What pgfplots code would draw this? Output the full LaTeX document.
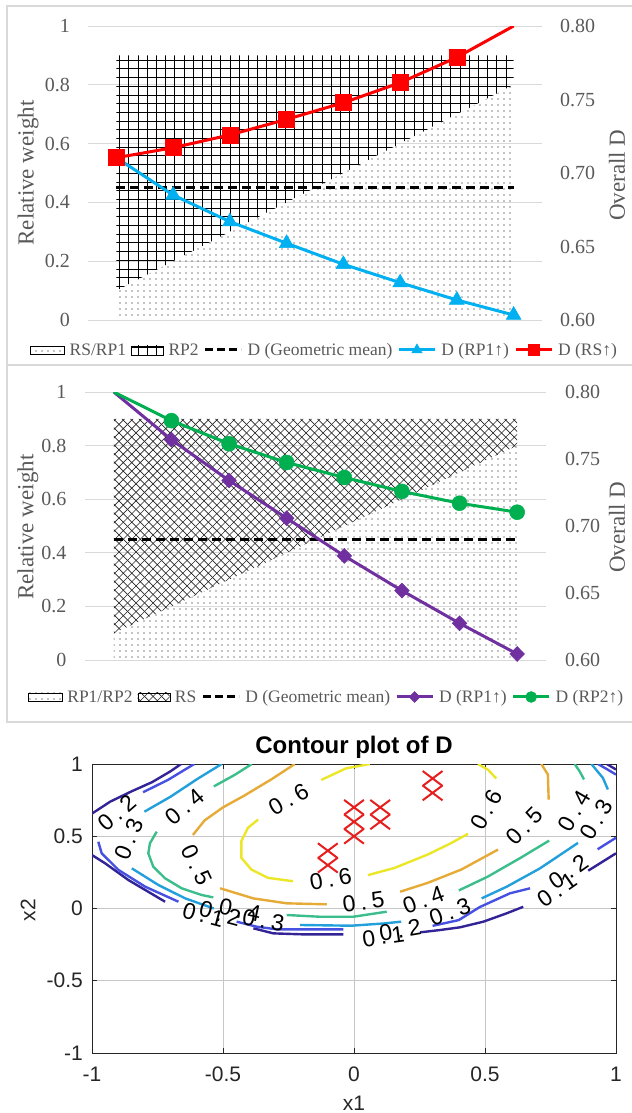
\documentclass[border=0pt]{standalone}
\usepackage{fontspec}
\setmainfont{Liberation Serif}
\newfontfamily\sansf{Liberation Sans}
\usepackage{pgfplots}
\pgfplotsset{compat=1.18}
\usetikzlibrary{patterns}

\pgfdeclarepatternformonly{bigdots}{\pgfqpoint{-1bp}{-1bp}}{\pgfqpoint{13bp}{13bp}}{\pgfqpoint{12bp}{12bp}}{%
  \pgfpathcircle{\pgfqpoint{0bp}{0bp}}{0.55bp}%
  \pgfpathcircle{\pgfqpoint{6bp}{6bp}}{0.55bp}%
  \pgfpathcircle{\pgfqpoint{6bp}{0bp}}{0.55bp}%
  \pgfpathcircle{\pgfqpoint{0bp}{6bp}}{0.55bp}%
  \pgfusepath{fill}}
\pgfdeclarepatternformonly{biggrid}{\pgfqpoint{-1bp}{-1bp}}{\pgfqpoint{10bp}{10bp}}{\pgfqpoint{9.2bp}{8.7bp}}{%
  \pgfsetlinewidth{1bp}%
  \pgfpathmoveto{\pgfqpoint{0bp}{0bp}}\pgfpathlineto{\pgfqpoint{9.3bp}{0bp}}%
  \pgfpathmoveto{\pgfqpoint{0bp}{0bp}}\pgfpathlineto{\pgfqpoint{0bp}{8.8bp}}%
  \pgfusepath{stroke}}
\pgfdeclarepatternformonly{bigcross}{\pgfqpoint{-1bp}{-1bp}}{\pgfqpoint{9.5bp}{9.5bp}}{\pgfqpoint{8.5bp}{8.5bp}}{%
  \pgfsetlinewidth{0.7bp}%
  \pgfpathmoveto{\pgfqpoint{0bp}{0bp}}\pgfpathlineto{\pgfqpoint{8.5bp}{8.5bp}}%
  \pgfpathmoveto{\pgfqpoint{0bp}{8.5bp}}\pgfpathlineto{\pgfqpoint{8.5bp}{0bp}}%
  \pgfusepath{stroke}}

\definecolor{txt}{HTML}{595959}
\definecolor{gridc}{HTML}{D9D9D9}
\definecolor{xred}{HTML}{FF0000}
\definecolor{xblue}{HTML}{00B0F0}
\definecolor{xpurple}{HTML}{7030A0}
\definecolor{xgreen}{HTML}{00B050}
\definecolor{c1}{RGB}{50,35,150}
\definecolor{c2}{RGB}{70,80,225}
\definecolor{c3}{RGB}{35,160,220}
\definecolor{c4}{RGB}{60,190,140}
\definecolor{c5}{RGB}{230,170,55}
\definecolor{c6}{RGB}{235,230,40}
\definecolor{mred}{RGB}{230,30,30}

\newcommand\tickf{\fontsize{20bp}{24bp}\selectfont}
\newcommand\labf{\fontsize{23bp}{27bp}\selectfont}
\newcommand\legf{\fontsize{17.5bp}{21bp}\selectfont}
\newcommand\ctf{\sansf\fontsize{21bp}{25bp}\selectfont}
\newcommand\clf{\sansf\fontsize{23bp}{27bp}\selectfont}
\newcommand\lb[2]{#1\hspace{5bp}.\hspace{5bp}#2}

\pgfplotsset{
  leftax/.style={scale only axis, xmin=-0.5, xmax=7.5, ymin=0, ymax=1,
    xtick=\empty, ytick={0,0.2,0.4,0.6,0.8,1}, yticklabels={0,0.2,0.4,0.6,0.8,1},
    ymajorgrids, grid style={gridc, line width=1bp}, axis line style={draw=none},
    major tick length=0pt, tick style={draw=none},
    yticklabel style={font=\tickf, text=txt, anchor=east, inner sep=0pt}},
  rightax/.style={scale only axis, xmin=-0.5, xmax=7.5, ymin=0.6, ymax=0.8,
    axis y line*=right, axis x line=none, xtick=\empty,
    ytick={0.6,0.65,0.7,0.75,0.8}, yticklabels={0.60,0.65,0.70,0.75,0.80},
    axis line style={draw=none}, major tick length=0pt, tick style={draw=none},
    yticklabel style={font=\tickf, text=txt, anchor=west, inner sep=0pt},
    legend cell align=left},
  legst/.style={anchor=center, draw=none, fill=none, font=\legf, text=txt,
    legend columns=5, /tikz/every even column/.append style={column sep=4bp},
    /tikz/every odd column/.append style={column sep=4bp}, inner sep=0pt, nodes={inner sep=1bp}},
  cl/.style={line width=2.4bp, no marks},
}

\begin{document}
\begin{tikzpicture}
\useasboundingbox (0bp,0bp) rectangle (632bp,-1113bp);
\draw[gridc, line width=1.2bp] (7bp,-6bp) rectangle (640bp,-365bp);
\draw[gridc, line width=1.2bp] (7bp,-365bp) rectangle (640bp,-722bp);

% ---------------- Panel 1 ----------------
\begin{axis}[leftax, at={(88bp,-320bp)}, anchor=south west, width=454bp, height=294bp,
  yticklabel style={xshift=-18bp}, ylabel={Relative weight},
  every axis y label/.style={at={(axis description cs:-0.132,0.5)}, anchor=center, rotate=90, font=\labf, text=txt}]
\addplot[draw=none, pattern=bigdots, pattern color=black] coordinates {(0,0) (7,0) (7,0.8) (0,0.1)} -- cycle;
\addplot[draw=none, pattern=biggrid, pattern color=black] coordinates {(0,0.1) (7,0.8) (7,0.9) (0,0.9)} -- cycle;
\addplot[black, line width=3bp, dash pattern=on 9bp off 5bp] coordinates {(0,0.45) (7,0.45)};
\end{axis}
\begin{axis}[rightax, at={(88bp,-320bp)}, anchor=south west, width=454bp, height=294bp,
  yticklabel style={xshift=18bp}, ylabel={Overall D},
  every axis y label/.style={at={(axis description cs:1.165,0.493)}, anchor=center, rotate=90, font=\labf, text=txt},
  legend style={legst, at={(axis description cs:0.52,-0.102)}}]
\addlegendimage{legend image code/.code={\fill[pattern=bigdots, pattern color=black] (0bp,-4bp) rectangle (34bp,4bp);}}
\addlegendentry{RS/RP1}
\addlegendimage{legend image code/.code={\fill[pattern=biggrid, pattern color=black] (0bp,-5bp) rectangle (32bp,4bp);}}
\addlegendentry{RP2}
\addlegendimage{legend image code/.code={\draw[black, line width=3bp, dash pattern=on 8bp off 4bp] (0bp,0bp) -- (36bp,0bp);}}
\addlegendentry{D (Geometric mean)}
\addplot[xblue, line width=3bp, mark=triangle*, mark size=8.5bp, mark options={line width=0.5bp}, mark indices={2,3,4,5,6,7,8},
  legend image code/.code={\draw[xblue, line width=3bp] plot[mark=triangle*, mark size=6bp, mark options={line width=0.5bp}, mark indices={2}] coordinates {(0bp,0bp) (18bp,0bp) (36bp,0bp)};}]
  coordinates {(0,0.7104) (1,0.685) (2,0.6669) (3,0.6522) (4,0.6379) (5,0.6254) (6,0.6136) (7,0.6034)};
\addlegendentry{D (RP1↑)}
\addplot[xred, line width=3bp, mark=square*, mark size=8bp, mark options={line width=0.5bp}, mark indices={1,2,3,4,5,6,7},
  legend image code/.code={\draw[xred, line width=3bp] plot[mark=square*, mark size=5.5bp, mark options={line width=0.5bp}, mark indices={2}] coordinates {(0bp,0bp) (18bp,0bp) (36bp,0bp)};}]
  coordinates {(0,0.7104) (1,0.7172) (2,0.7259) (3,0.7365) (4,0.7478) (5,0.7614) (6,0.7787) (7,0.8)};
\addlegendentry{D (RS↑)}
\end{axis}

% ---------------- Panel 2 ----------------
\begin{axis}[leftax, at={(85bp,-660bp)}, anchor=south west, width=461bp, height=268bp,
  yticklabel style={xshift=-18.5bp}, ylabel={Relative weight},
  every axis y label/.style={at={(axis description cs:-0.124,0.496)}, anchor=center, rotate=90, font=\labf, text=txt}]
\addplot[draw=none, pattern=bigdots, pattern color=black] coordinates {(0,0) (7,0) (7,0.8) (0,0.1)} -- cycle;
\addplot[draw=none, pattern=bigcross, pattern color=black!85] coordinates {(0,0.1) (7,0.8) (7,0.9) (0,0.9)} -- cycle;
\addplot[black, line width=3bp, dash pattern=on 9bp off 5bp] coordinates {(0,0.45) (7,0.45)};
\end{axis}
\begin{axis}[rightax, at={(85bp,-660bp)}, anchor=south west, width=461bp, height=268bp,
  yticklabel style={xshift=19bp}, ylabel={Overall D},
  every axis y label/.style={at={(axis description cs:1.154,0.496)}, anchor=center, rotate=90, font=\labf, text=txt},
  legend style={legst, at={(axis description cs:0.523,-0.138)}}]
\addlegendimage{legend image code/.code={\fill[pattern=bigdots, pattern color=black] (0bp,-4bp) rectangle (34bp,4bp);}}
\addlegendentry{RP1/RP2}
\addlegendimage{legend image code/.code={\fill[pattern=bigcross, pattern color=black!85] (0bp,-4bp) rectangle (32bp,4bp);}}
\addlegendentry{RS}
\addlegendimage{legend image code/.code={\draw[black, line width=3bp, dash pattern=on 8bp off 4bp] (0bp,0bp) -- (36bp,0bp);}}
\addlegendentry{D (Geometric mean)}
\addplot[xpurple, line width=3bp, mark=diamond*, mark size=7.5bp, mark options={line width=0.5bp, xscale=1.3}, mark indices={2,3,4,5,6,7,8},
  legend image code/.code={\draw[xpurple, line width=3bp] plot[mark=diamond*, mark size=5.5bp, mark options={line width=0.5bp, xscale=1.3}, mark indices={2}] coordinates {(0bp,0bp) (18bp,0bp) (36bp,0bp)};}]
  coordinates {(0,0.8) (1,0.7644) (2,0.734) (3,0.7058) (4,0.6777) (5,0.6518) (6,0.6274) (7,0.6045)};
\addlegendentry{D (RP1↑)}
\addplot[xgreen, line width=3bp, mark=*, mark size=7.5bp, mark options={line width=0.5bp}, mark indices={2,3,4,5,6,7,8},
  legend image code/.code={\draw[xgreen, line width=3bp] plot[mark=*, mark size=5.5bp, mark options={line width=0.5bp}, mark indices={2}] coordinates {(0bp,0bp) (18bp,0bp) (36bp,0bp)};}]
  coordinates {(0,0.8) (1,0.7786) (2,0.7614) (3,0.7474) (4,0.7362) (5,0.7258) (6,0.717) (7,0.7103)};
\addlegendentry{D (RP2↑)}
\end{axis}

% ---------------- Panel 3 ----------------
\begin{axis}[at={(92bp,-1053bp)}, anchor=south west, scale only axis, width=524bp, height=289bp,
  xmin=-1, xmax=1, ymin=-1, ymax=1,
  xtick={-1,-0.5,0,0.5,1}, xticklabels={-1,-0.5,0,0.5,1},
  ytick={-1,-0.5,0,0.5,1}, yticklabels={-1,-0.5,0,0.5,1},
  grid=major, grid style={black!22, line width=0.8bp},
  axis line style={black!85, line width=0.9bp}, tick align=inside, major tick length=5bp,
  tick style={black!85, line width=0.8bp},
  xticklabel style={font=\ctf, text=black!85, anchor=north, inner sep=0pt, yshift=-14bp},
  yticklabel style={font=\ctf, text=black!85, anchor=east, inner sep=0pt, xshift=-9bp},
  title={Contour plot of D}, xlabel={x1}, ylabel={x2},
  every axis title/.style={at={(axis description cs:0.5,1.059)}, anchor=center, font=\sansf\bfseries\fontsize{24bp}{28bp}\selectfont},
  every axis x label/.style={at={(axis description cs:0.5,-0.173)}, anchor=center, font=\ctf, text=black!85},
  every axis y label/.style={at={(axis description cs:-0.122,0.495)}, anchor=center, rotate=90, font=\ctf, text=black!85}]
% level 0.1
\addplot[c1, cl] coordinates {(-1,0.657) (-0.93,0.74) (-0.85,0.81) (-0.77,0.875) (-0.70,0.95) (-0.66,1.0)};
\addplot[c1, cl] coordinates {(-1,0.37) (-0.95,0.313) (-0.861,0.197) (-0.721,0.047)};
\addplot[c1, cl] coordinates {(-0.384,-0.137) (-0.308,-0.172) (-0.193,-0.179) (-0.041,-0.179)};
\addplot[c1, cl] coordinates {(0.252,-0.165) (0.328,-0.149) (0.405,-0.130) (0.494,-0.091) (0.583,-0.033) (0.646,0.012)};
\addplot[c1, cl] coordinates {(0.894,0.262) (1.0,0.382)};
\addplot[c1, cl] coordinates {(0.965,1.0) (1.0,0.962)};
% level 0.2
\addplot[c2, cl] coordinates {(-0.805,0.805) (-0.71,0.89) (-0.61,1.0)};
\addplot[c2, cl] coordinates {(-0.976,0.462) (-0.963,0.382) (-0.899,0.267) (-0.797,0.151) (-0.670,0.047)};
\addplot[c2, cl] coordinates {(-0.448,-0.091) (-0.371,-0.126) (-0.295,-0.144) (-0.041,-0.144)};
\addplot[c2, cl] coordinates {(0.30,-0.12) (0.40,-0.08) (0.48,0.01) (0.595,0.105) (0.672,0.14)};
\addplot[c2, cl] coordinates {(0.93,0.41) (1.0,0.49)};
\addplot[c2, cl] coordinates {(0.931,1.0) (0.965,0.965) (1.0,0.927)};
% level 0.3
\addplot[c3, cl] coordinates {(-0.80,0.67) (-0.70,0.774) (-0.595,0.90) (-0.505,1.0)};
\addplot[c3, cl] coordinates {(-0.848,0.278) (-0.746,0.162) (-0.644,0.07) (-0.535,0.0)};
\addplot[c3, cl] coordinates {(-0.206,-0.114) (-0.010,-0.119) (0.117,-0.103) (0.18,-0.091)};
\addplot[c3, cl] coordinates {(0.487,0.07) (0.583,0.151) (0.710,0.278) (0.855,0.454)};
\addplot[c3, cl] coordinates {(0.906,1.0) (0.950,0.904) (0.969,0.824)};
% level 0.4
\addplot[c4, cl] coordinates {(-0.535,0.845) (-0.456,0.924) (-0.39,1.0)};
\addplot[c4, cl] coordinates {(-0.753,0.532) (-0.779,0.451) (-0.785,0.382) (-0.766,0.289) (-0.721,0.209) (-0.658,0.140) (-0.581,0.093) (-0.537,0.077)};
\addplot[c4, cl] coordinates {(-0.257,-0.045) (-0.130,-0.057) (-0.003,-0.057) (0.125,-0.022)};
\addplot[c4, cl] coordinates {(0.40,0.125) (0.51,0.22) (0.635,0.35) (0.745,0.47)};
\addplot[c4, cl] coordinates {(0.842,1.0) (0.861,0.95) (0.878,0.893)};
% level 0.5
\addplot[c5, cl] coordinates {(-0.615,0.509) (-0.57,0.61) (-0.50,0.70) (-0.42,0.78) (-0.316,0.893) (-0.226,1.0)};
\addplot[c5, cl] coordinates {(-0.511,0.14) (-0.384,0.07) (-0.257,0.036) (-0.104,0.029)};
\addplot[c5, cl] coordinates {(0.176,0.116) (0.282,0.178) (0.41,0.27) (0.55,0.408)};
\addplot[c5, cl] coordinates {(0.715,1.0) (0.74,0.927) (0.743,0.754)};
% level 0.6
\addplot[c6, cl] coordinates {(-0.366,0.616) (-0.405,0.558) (-0.430,0.466) (-0.430,0.351) (-0.392,0.270) (-0.328,0.212) (-0.233,0.189)};
\addplot[c6, cl] coordinates {(-0.125,0.89) (-0.03,0.97) (0.06,1.0)};
\addplot[c6, cl] coordinates {(0.473,1.0) (0.511,0.961) (0.543,0.9)};
\addplot[c6, cl] coordinates {(0.053,0.231) (0.155,0.281) (0.282,0.374) (0.372,0.454) (0.435,0.517)};
% design points
\addplot[only marks, mark=x, mark size=14bp, mred, line width=2bp, mark options={yscale=0.75}]
  coordinates {(-0.1,0.3) (-0.1,0.4) (0,0.5) (0,0.6) (0,0.7) (0.1,0.6) (0.1,0.7) (0.3,0.8) (0.3,0.9)};
% contour labels
\begin{scope}[every node/.style={font=\clf, inner sep=0pt}]
\node[rotate=41] at (axis cs:-0.905,0.66) {\lb{0}{2}};
\node[rotate=68] at (axis cs:-0.86,0.48) {\lb{0}{3}};
\node[rotate=40] at (axis cs:-0.646,0.705) {\lb{0}{4}};
\node[rotate=-65] at (axis cs:-0.60,0.30) {\lb{0}{5}};
\node[rotate=30] at (axis cs:-0.25,0.755) {\lb{0}{6}};
\node[rotate=10] at (axis cs:-0.089,0.205) {\lb{0}{6}};
\node[rotate=8] at (axis cs:0.036,0.047) {\lb{0}{5}};
\node[rotate=20] at (axis cs:0.265,0.058) {\lb{0}{4}};
\node[rotate=20] at (axis cs:0.366,-0.022) {\lb{0}{3}};
\node[rotate=8] at (axis cs:0.112,-0.195) {\lb{0}{1}};
\node[rotate=10] at (axis cs:0.176,-0.149) {\lb{0}{2}};
\node[rotate=-15] at (axis cs:-0.575,-0.045) {\lb{0}{1}};
\node[rotate=-15] at (axis cs:-0.511,-0.033) {\lb{0}{2}};
\node[rotate=-12] at (axis cs:-0.435,-0.01) {\lb{0}{4}};
\node[rotate=-10] at (axis cs:-0.346,-0.08) {\lb{0}{3}};
\node[rotate=62] at (axis cs:0.505,0.685) {\lb{0}{6}};
\node[rotate=45] at (axis cs:0.651,0.57) {\lb{0}{5}};
\node[rotate=60] at (axis cs:0.842,0.674) {\lb{0}{4}};
\node[rotate=60] at (axis cs:0.925,0.616) {\lb{0}{3}};
\node[rotate=35] at (axis cs:0.774,0.128) {\lb{0}{1}};
\node[rotate=35] at (axis cs:0.818,0.255) {\lb{0}{2}};
\end{scope}
\end{axis}
\end{tikzpicture}
\end{document}
